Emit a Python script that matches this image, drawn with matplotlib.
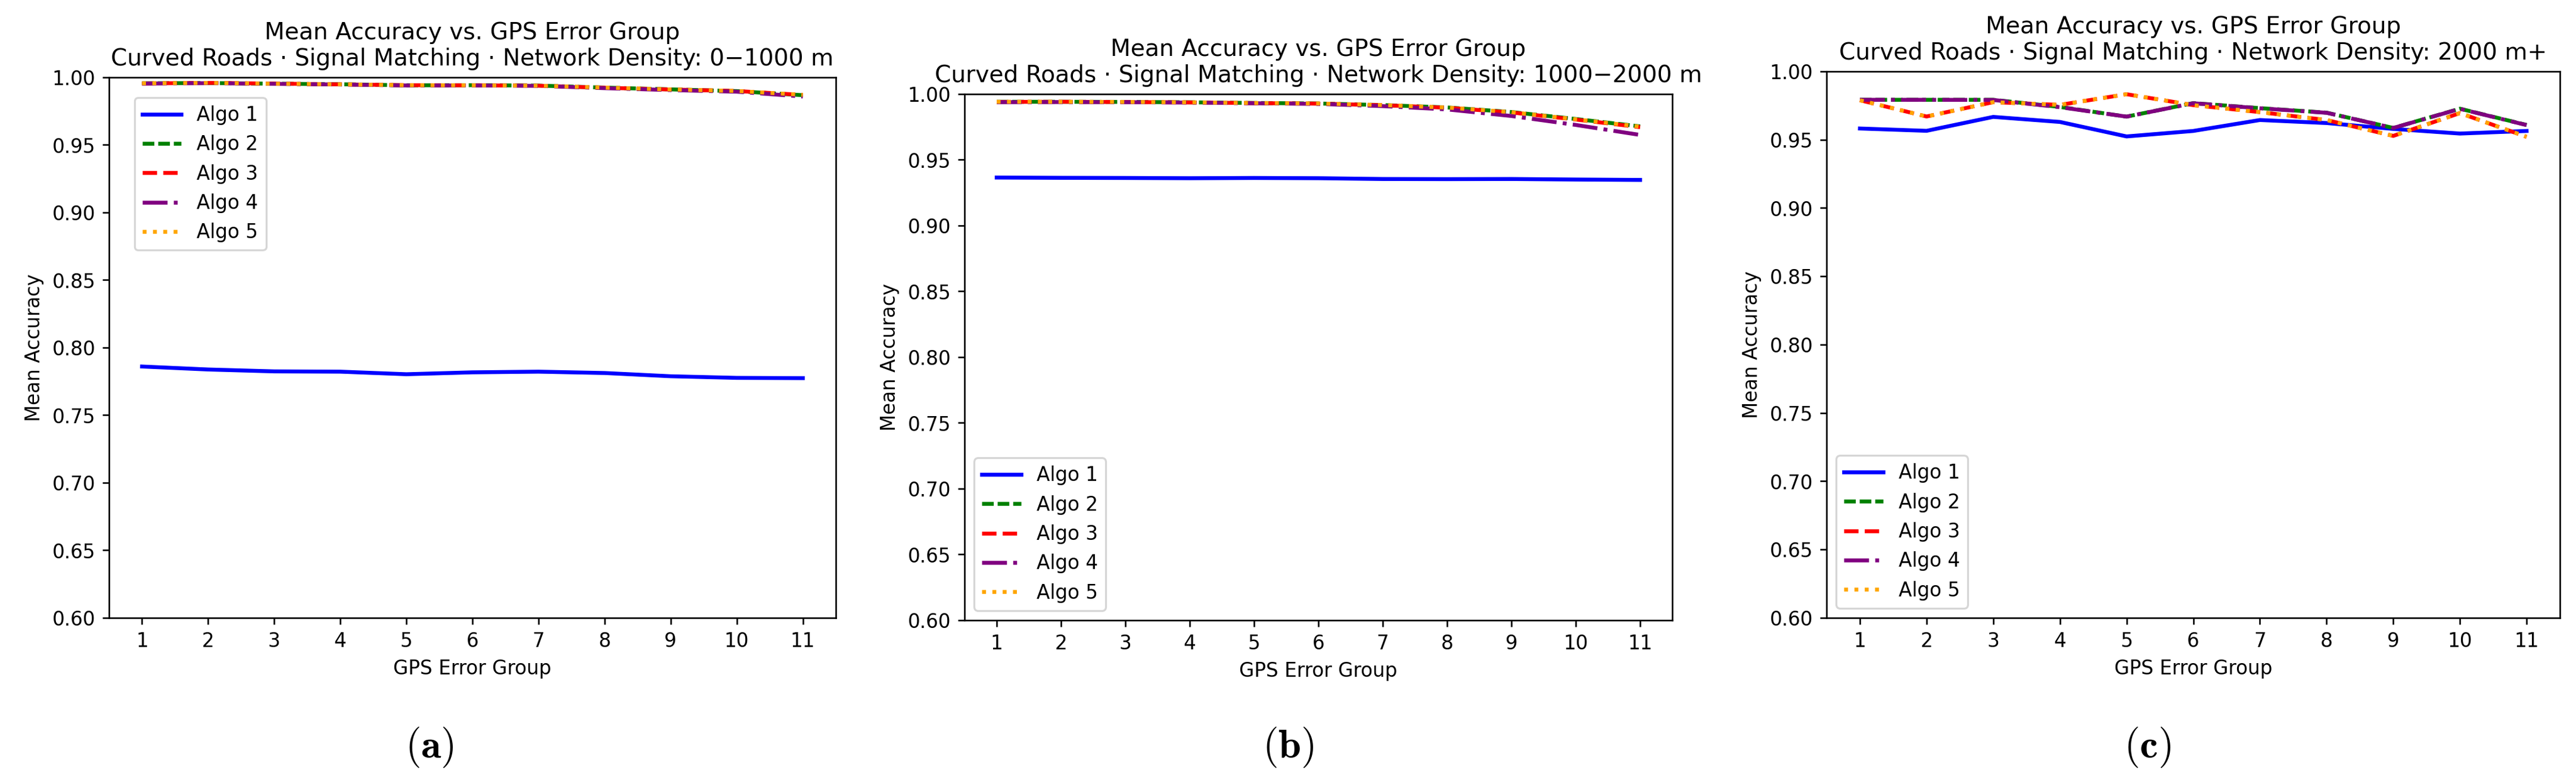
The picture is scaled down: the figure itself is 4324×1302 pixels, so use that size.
import matplotlib
matplotlib.use('Agg')
import matplotlib.pyplot as plt

# GPS error groups on the x axis
groups = list(range(1, 12))
labels = ['Algo 1', 'Algo 2', 'Algo 3', 'Algo 4', 'Algo 5']
densities = ['0\u22121000 m', '1000\u22122000 m', '2000 m+']
captions = ['a', 'b', 'c']

# (a) network density 0-1000 m
algo1_a = [0.7860, 0.7838, 0.7824, 0.7822, 0.7803, 0.7817, 0.7822, 0.7812, 0.7788, 0.7776, 0.7774]
algo2_a = [0.9956, 0.9958, 0.9953, 0.9949, 0.9941, 0.9942, 0.9939, 0.9924, 0.9911, 0.9898, 0.9868]
algo3_a = [0.9955, 0.9959, 0.9954, 0.9948, 0.9942, 0.9941, 0.9938, 0.9923, 0.9910, 0.9899, 0.9870]
algo4_a = [0.9954, 0.9957, 0.9952, 0.9947, 0.9940, 0.9940, 0.9937, 0.9920, 0.9906, 0.9894, 0.9858]
algo5_a = [0.9956, 0.9959, 0.9953, 0.9948, 0.9942, 0.9941, 0.9938, 0.9924, 0.9910, 0.9899, 0.9871]

# (b) network density 1000-2000 m
algo1_b = [0.9365, 0.9363, 0.9362, 0.9360, 0.9362, 0.9360, 0.9354, 0.9353, 0.9354, 0.9350, 0.9347]
algo2_b = [0.9941, 0.9941, 0.9940, 0.9937, 0.9932, 0.9928, 0.9916, 0.9898, 0.9863, 0.9810, 0.9754]
algo3_b = [0.9940, 0.9941, 0.9939, 0.9936, 0.9931, 0.9927, 0.9915, 0.9896, 0.9860, 0.9806, 0.9748]
algo4_b = [0.9938, 0.9939, 0.9938, 0.9935, 0.9930, 0.9925, 0.9908, 0.9883, 0.9833, 0.9765, 0.9689]
algo5_b = [0.9941, 0.9941, 0.9940, 0.9937, 0.9932, 0.9928, 0.9916, 0.9897, 0.9862, 0.9808, 0.9752]

# (c) network density 2000 m+
algo1_c = [0.9582, 0.9565, 0.9667, 0.9630, 0.9524, 0.9564, 0.9644, 0.9622, 0.9579, 0.9545, 0.9564]
algo2_c = [0.9792, 0.9792, 0.9792, 0.9740, 0.9669, 0.9768, 0.9731, 0.9698, 0.9586, 0.9727, 0.9608]
algo3_c = [0.9789, 0.9670, 0.9775, 0.9755, 0.9833, 0.9753, 0.9702, 0.9644, 0.9528, 0.9695, 0.9521]
algo4_c = [0.9792, 0.9792, 0.9791, 0.9738, 0.9669, 0.9767, 0.9730, 0.9697, 0.9586, 0.9726, 0.9607]
algo5_c = [0.9789, 0.9670, 0.9775, 0.9755, 0.9833, 0.9753, 0.9702, 0.9644, 0.9528, 0.9695, 0.9521]

panels = [
    [algo1_a, algo2_a, algo3_a, algo4_a, algo5_a],
    [algo1_b, algo2_b, algo3_b, algo4_b, algo5_b],
    [algo1_c, algo2_c, algo3_c, algo4_c, algo5_c],
]

colors = ['blue', 'green', 'red', 'purple', 'orange']
styles = ['-', (0, (3, 1)), '--', '-.', ':']

W, H, DPI = 4324, 1302, 235
fig = plt.figure(figsize=(W / DPI + 0.0002, H / DPI + 0.0002), dpi=DPI)

# axes boxes in pixels: left, right, top, bottom
boxes = [(183, 1403, 130, 1038), (1619, 2807, 158, 1042), (3066, 4297, 120, 1038)]
caption_x = [721, 2162, 3604]

for i, series in enumerate(panels):
    l, r, t, b = boxes[i]
    ax = fig.add_axes([l / W, 1 - b / H, (r - l) / W, (b - t) / H])
    for j, vals in enumerate(series):
        ax.plot(groups, vals, color=colors[j], linestyle=styles[j],
                linewidth=2, label=labels[j])
    ax.set_ylim(0.6, 1.0)
    ax.set_xticks(groups)
    ax.set_xlabel('GPS Error Group')
    ax.set_ylabel('Mean Accuracy')
    ax.set_title('Mean Accuracy vs. GPS Error Group\n'
                 'Curved Roads \u00b7 Signal Matching \u00b7 Network Density: '
                 + densities[i])
    if i == 0:
        ax.legend(loc='upper left', bbox_to_anchor=(0.0352, 0.9626),
                  borderaxespad=0)
    else:
        ax.legend(loc='lower left')
    fig.text(caption_x[i] / W, 1 - 1255 / H, r'$(\mathbf{' + captions[i] + '})$',
             ha='center', va='center', fontsize=21, math_fontfamily='cm')

fig.savefig('out.png', dpi=DPI)
